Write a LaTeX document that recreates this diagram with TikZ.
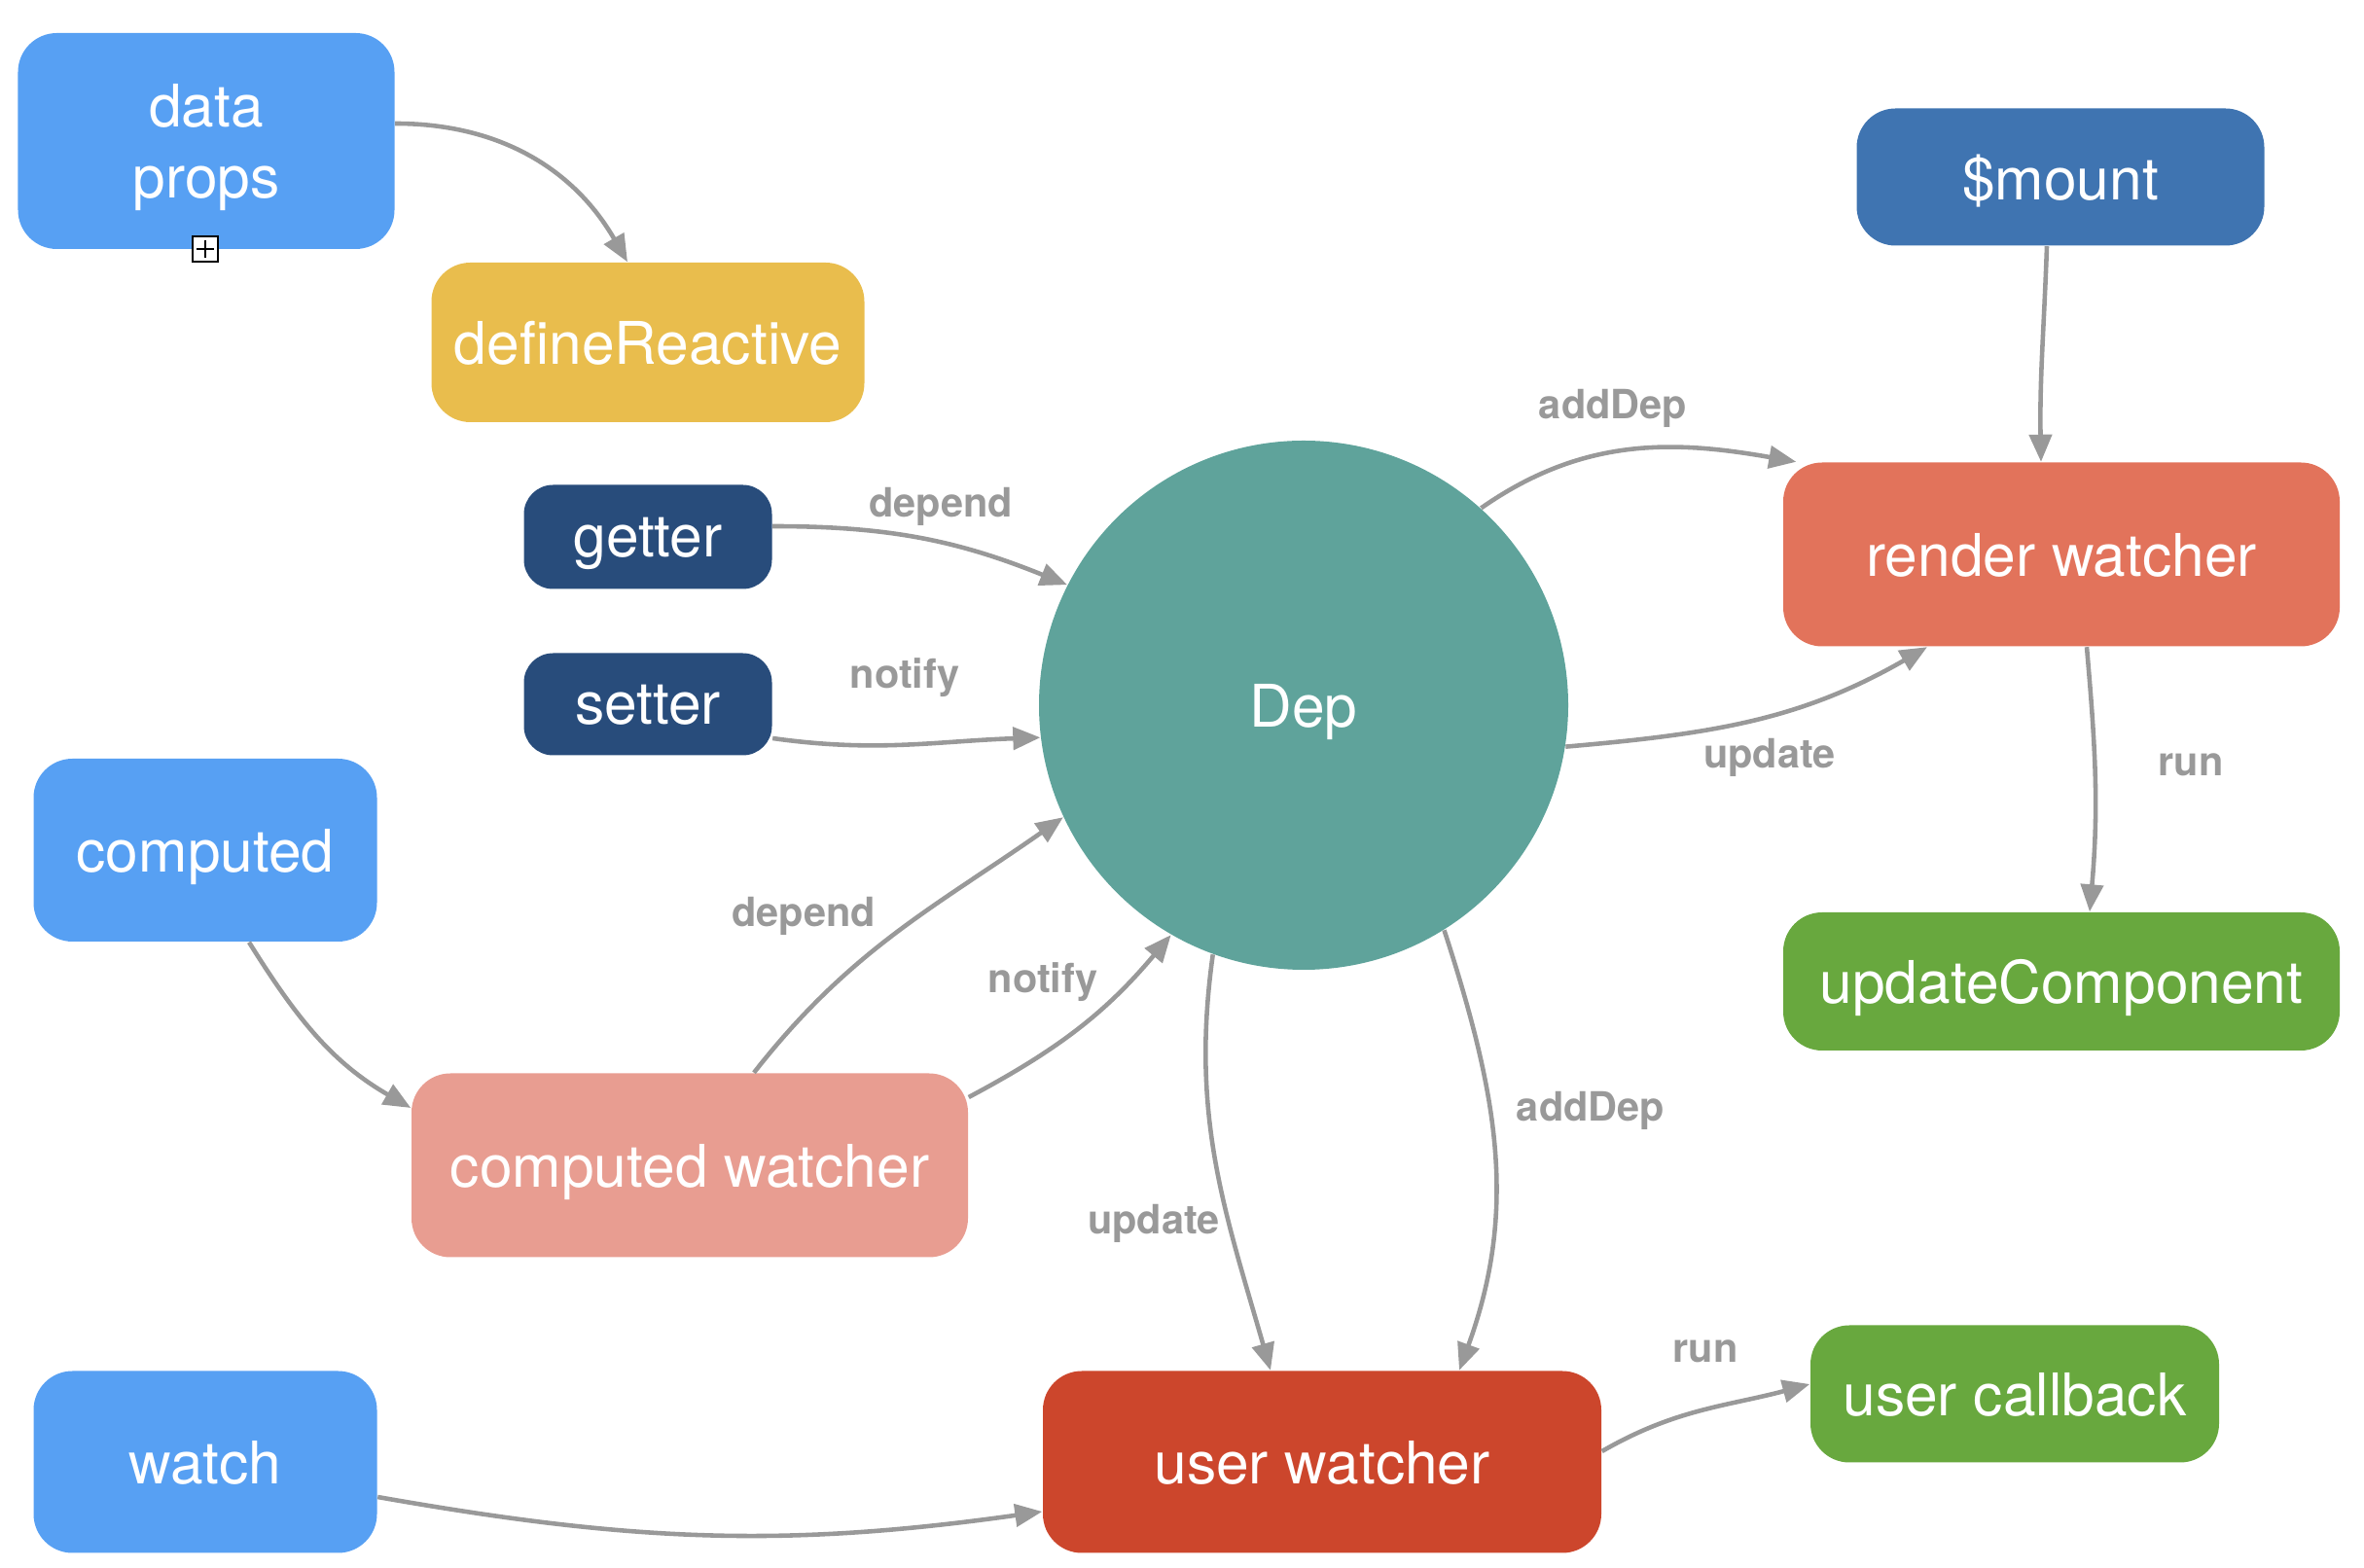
\documentclass[tikz,border=0pt]{standalone}
\usepackage{fontspec}
\setmainfont{TeX Gyre Heros}
\usepackage{tikz}
\usetikzlibrary{shapes,arrows.meta,positioning}
\usepackage{xcolor}
\definecolor{sourceblue}{RGB}{87,160,243}
\definecolor{reactyellow}{RGB}{233,189,77}
\definecolor{mountblue}{RGB}{63,116,177}
\definecolor{accessblue}{RGB}{40,76,123}
\definecolor{depteal}{RGB}{95,163,155}
\definecolor{renderred}{RGB}{226,115,91}
\definecolor{cbgreen}{RGB}{104,168,62}
\definecolor{computedpink}{RGB}{232,157,145}
\definecolor{userred}{RGB}{204,70,44}
\definecolor{flowgrey}{RGB}{153,153,153}

\begin{document}
\begin{tikzpicture}[
    box/.style={rectangle, rounded corners=0.4cm, text=white, align=center,
        inner sep=0pt, text depth=0pt, font=\fontsize{17.2}{21}\selectfont},
    flow/.style={-{Triangle[length=2.8mm,width=2.3mm]}, line width=1.3pt, draw=flowgrey},
    lbl/.style={font=\fontsize{11.8}{13}\selectfont\bfseries, text=flowgrey, inner sep=1pt}
]
    \useasboundingbox (0,0) rectangle (24.3,-16.12);

    % --- Sources ---
    \node[box, fill=sourceblue, minimum width=3.87cm, minimum height=2.22cm] (data) at (2.12,-1.45) {data\\props};
    \node[draw=black, fill=white, line width=0.6pt, minimum size=0.26cm, inner sep=0pt] (expand) at (2.11,-2.56) {};
    \draw[line width=0.6pt] ([yshift=-0.05cm]expand.north) -- ([yshift=0.05cm]expand.south);
    \draw[line width=0.6pt] ([xshift=0.05cm]expand.west) -- ([xshift=-0.05cm]expand.east);
    \node[box, fill=reactyellow, minimum width=4.45cm, minimum height=1.64cm] (define) at (6.66,-3.52) {defineReactive};
    \node[box, fill=sourceblue, minimum width=3.53cm, minimum height=1.88cm] (computed) at (2.11,-8.74) {computed};
    \node[box, fill=sourceblue, minimum width=3.53cm, minimum height=1.87cm] (watch) at (2.11,-15.03) {watch};

    % --- Getter / setter ---
    \node[box, fill=accessblue, rounded corners=0.3cm, minimum width=2.55cm, minimum height=1.07cm] (getter) at (6.66,-5.52) {getter};
    \node[box, fill=accessblue, rounded corners=0.3cm, minimum width=2.55cm, minimum height=1.05cm] (setter) at (6.66,-7.24) {setter};

    % --- Dep ---
    \node[circle, fill=depteal, text=white, minimum size=5.44cm, inner sep=0pt, text depth=0pt,
        font=\fontsize{17.2}{21}\selectfont] (dep) at (13.40,-7.25) {Dep};

    % --- Watchers ---
    \node[box, fill=mountblue, minimum width=4.19cm, minimum height=1.41cm] (mount) at (21.18,-1.82) {\$mount};
    \node[box, fill=renderred, minimum width=5.72cm, minimum height=1.89cm] (render) at (21.19,-5.70) {render watcher};
    \node[box, fill=cbgreen, minimum width=5.72cm, minimum height=1.42cm] (updcomp) at (21.19,-10.09) {updateComponent};
    \node[box, fill=computedpink, minimum width=5.72cm, minimum height=1.89cm] (cwatcher) at (7.09,-11.98) {computed watcher};
    \node[box, fill=userred, minimum width=5.74cm, minimum height=1.87cm] (uwatcher) at (13.59,-15.03) {user watcher};
    \node[box, fill=cbgreen, minimum width=4.20cm, minimum height=1.41cm] (callback) at (20.71,-14.33) {user callback};

    % --- Connectors ---
    \draw[flow] ([yshift=0.18cm]data.east) to[out=0, in=120] ([xshift=-0.21cm]define.north);
    \draw[flow] ([xshift=-0.14cm]mount.south) to[out=-92, in=91] ([xshift=-0.21cm]render.north);
    \draw[flow] ([yshift=0.11cm]getter.east) to[out=0, in=158] (dep.153);
    \draw[flow] ([yshift=-0.35cm]setter.east) to[out=-8, in=182] (dep.187);
    \draw[flow] ([xshift=0.45cm]computed.south) to[out=-58, in=150] ([yshift=0.59cm]cwatcher.west);
    \draw[flow] ([xshift=0.66cm]cwatcher.north) to[out=52, in=-145] (dep.205);
    \draw[flow] ([yshift=0.70cm]cwatcher.east) to[out=28, in=-130] (dep.240);
    \draw[flow] ([yshift=-0.36cm]watch.east) to[out=-10, in=-172] ([yshift=-0.51cm]uwatcher.west);
    \draw[flow] (dep.48) to[out=35, in=170] ([xshift=0.14cm]render.north west);
    \draw[flow] (dep.-9) to[out=5, in=-150] ([xshift=-1.38cm]render.south);
    \draw[flow] ([xshift=0.26cm]render.south) to[out=-85, in=85] ([xshift=0.29cm]updcomp.north);
    \draw[flow] (dep.250) to[out=-98, in=106] ([xshift=-0.53cm]uwatcher.north);
    \draw[flow] (dep.-58) to[out=-72, in=70] ([xshift=1.41cm]uwatcher.north);
    \draw[flow] ([yshift=0.11cm]uwatcher.east) to[out=30, in=-165] ([yshift=0.10cm]callback.west);

    % --- Labels ---
    \node[lbl] (ldepend) at (9.67,-5.21) {depend};
    \node[lbl] (lnotify) at (9.30,-6.97) {notify};
    \node[lbl] (lcdepend) at (8.26,-9.42) {depend};
    \node[lbl] (lcnotify) at (10.72,-10.10) {notify};
    \node[lbl] (laddrender) at (16.58,-4.20) {addDep};
    \node[lbl] (lupdrender) at (18.19,-7.79) {update};
    \node[lbl] (lrunrender) at (22.52,-7.86) {run};
    \node[lbl] (lupduser) at (11.86,-12.58) {update};
    \node[lbl] (ladduser) at (16.35,-11.42) {addDep};
    \node[lbl] (lrunuser) at (17.53,-13.89) {run};
\end{tikzpicture}
\end{document}
